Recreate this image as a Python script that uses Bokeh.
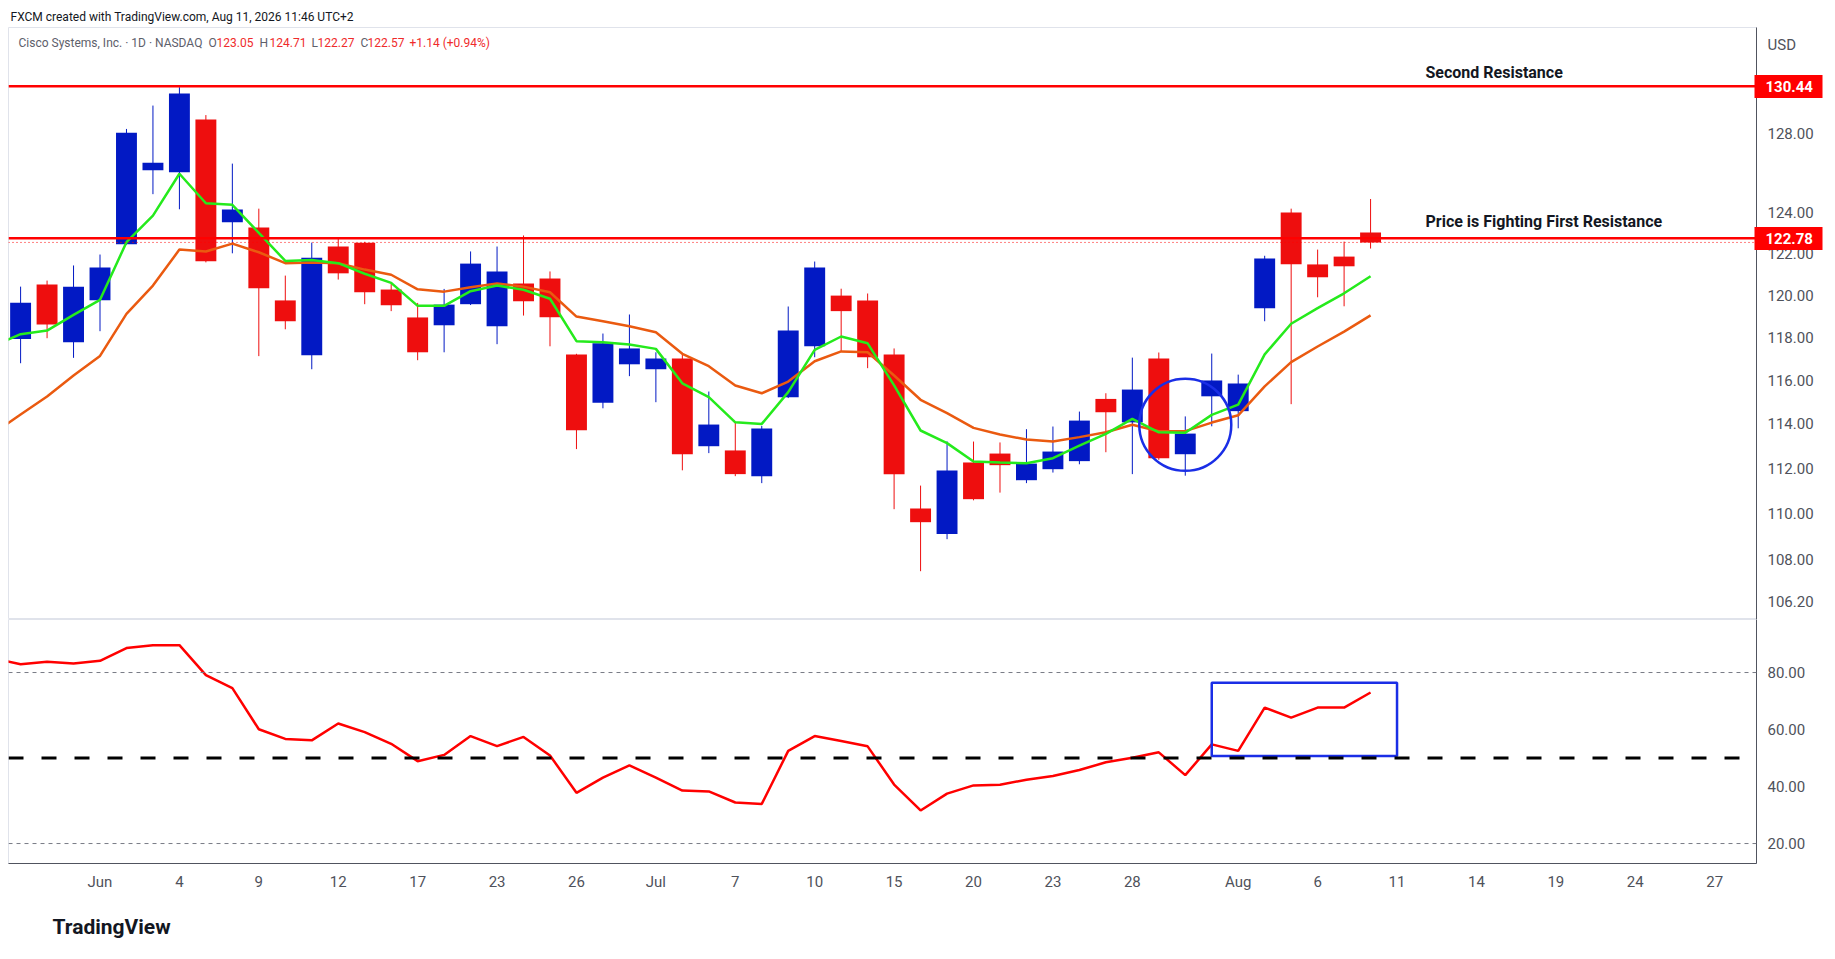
import numpy as np
import pandas as pd
from bokeh.plotting import figure
from bokeh.layouts import column
from bokeh.models import (Range1d, FixedTicker, PrintfTickFormatter, Span, Label,
                          Title, ColumnDataSource, LogAxis)
from bokeh.embed import file_html
from bokeh.resources import INLINE

# ------------------------------------------------------------------ data
dates = ["2026-05-27", "2026-05-28", "2026-05-29",
         "2026-06-01", "2026-06-02", "2026-06-03", "2026-06-04", "2026-06-05",
         "2026-06-08", "2026-06-09", "2026-06-10", "2026-06-11", "2026-06-12",
         "2026-06-15", "2026-06-16", "2026-06-17", "2026-06-18",
         "2026-06-22", "2026-06-23", "2026-06-24", "2026-06-25", "2026-06-26",
         "2026-06-29", "2026-06-30", "2026-07-01", "2026-07-02",
         "2026-07-06", "2026-07-07", "2026-07-08", "2026-07-09", "2026-07-10",
         "2026-07-13", "2026-07-14", "2026-07-15", "2026-07-16", "2026-07-17",
         "2026-07-20", "2026-07-21", "2026-07-22", "2026-07-23", "2026-07-24",
         "2026-07-27", "2026-07-28", "2026-07-29", "2026-07-30", "2026-07-31",
         "2026-08-03", "2026-08-04", "2026-08-05", "2026-08-06", "2026-08-07",
         "2026-08-10"]

open_ = [117.94, 120.53, 117.79, 119.78, 122.48, 126.15, 126.05, 128.72, 123.56, 123.30,
         119.77, 117.18, 122.37, 122.56, 120.29, 118.96, 118.59, 119.59, 118.54, 120.58,
         120.82, 117.22, 114.98, 116.76, 116.53, 117.03, 113.01, 112.82, 111.67, 115.24,
         117.60, 120.00, 119.77, 117.22, 110.24, 109.12, 112.28, 112.68, 111.49, 111.98,
         112.34, 115.16, 114.09, 117.03, 112.65, 115.28, 114.60, 119.40, 124.04, 121.50,
         121.88, 123.05]
high = [120.43, 120.72, 121.45, 121.98, 128.24, 129.44, 130.39, 128.95, 126.48, 124.23,
        120.96, 122.56, 122.76, 122.60, 120.56, 119.65, 120.32, 122.13, 122.37, 122.91,
        121.16, 117.25, 118.20, 119.10, 117.32, 117.22, 115.50, 114.11, 113.93, 119.48,
        121.64, 120.33, 120.10, 117.50, 111.25, 113.23, 113.22, 113.18, 113.78, 113.90,
        114.58, 115.42, 117.07, 117.31, 114.36, 117.26, 116.28, 121.92, 124.23, 122.22,
        122.61, 124.71]
low = [116.81, 117.98, 117.06, 118.31, 122.45, 124.95, 124.20, 121.60, 122.04, 117.14,
       118.40, 116.53, 120.77, 119.59, 119.26, 116.95, 117.32, 119.55, 117.70, 119.05,
       117.60, 112.88, 114.73, 116.21, 115.01, 111.93, 112.70, 111.67, 111.36, 115.20,
       117.09, 117.37, 116.58, 110.21, 107.52, 108.90, 110.60, 110.94, 111.36, 111.83,
       112.20, 112.74, 111.76, 112.40, 111.69, 113.91, 113.82, 118.78, 114.92, 119.92,
       119.49, 122.27]
close = [119.66, 118.63, 120.43, 121.35, 128.05, 126.53, 130.06, 121.66, 124.19, 120.35,
         118.78, 121.82, 121.07, 120.16, 119.54, 117.32, 119.57, 121.54, 121.16, 119.73,
         118.97, 113.73, 117.74, 117.50, 117.03, 112.65, 113.99, 111.76, 113.81, 118.34,
         121.35, 119.26, 117.09, 111.76, 109.64, 111.92, 110.65, 112.16, 112.23, 112.77,
         114.17, 114.55, 115.59, 112.47, 113.58, 116.01, 115.87, 121.79, 121.51, 120.88,
         121.41, 122.57]

# indicator series start one session earlier (their line enters from the left edge)
indicator_dates = ["2026-05-26"] + dates
ma_fast = [117.63,
           118.17, 118.34, 119.08, 119.80, 122.58, 123.89, 125.97, 124.50, 124.42, 123.04,
           121.67, 121.72, 121.56, 121.05, 120.61, 119.51, 119.51, 120.21, 120.48, 120.28,
           119.85, 117.84, 117.79, 117.68, 117.48, 115.88, 115.24, 114.09, 114.02, 115.47,
           117.43, 118.06, 117.74, 115.78, 113.72, 113.15, 112.32, 112.28, 112.25, 112.47,
           113.04, 113.57, 114.25, 113.64, 113.62, 114.43, 114.90, 117.22, 118.66, 119.40,
           120.11, 120.93]
ma_slow = [113.61,
           114.45, 115.27, 116.24, 117.15, 119.13, 120.48, 122.22, 122.13, 122.51, 122.09,
           121.56, 121.59, 121.56, 121.25, 121.00, 120.30, 120.19, 120.40, 120.58, 120.43,
           120.16, 119.00, 118.78, 118.54, 118.26, 117.25, 116.67, 115.78, 115.42, 115.96,
           116.90, 117.36, 117.32, 116.24, 115.12, 114.51, 113.84, 113.54, 113.31, 113.22,
           113.42, 113.64, 113.98, 113.69, 113.69, 114.08, 114.41, 115.74, 116.86, 117.59,
           118.29, 119.06]
rsi = [84.9,
       82.9, 83.8, 83.2, 84.1, 88.6, 89.6, 89.6, 79.1, 74.5, 60.1,
       56.7, 56.2, 62.1, 59.1, 55.0, 48.9, 51.1, 57.7, 54.2, 57.4,
       50.9, 37.8, 43.1, 47.4, 43.1, 38.6, 38.3, 34.4, 33.9, 52.5,
       57.7, 56.0, 54.1, 40.7, 31.6, 37.5, 40.4, 40.6, 42.4, 43.7,
       45.8, 48.5, 50.1, 52.0, 44.0, 54.8, 52.5, 67.7, 64.2, 67.7,
       67.7, 73.0]

tick_dates = ["2026-06-01", "2026-06-04", "2026-06-09", "2026-06-12", "2026-06-17",
              "2026-06-23", "2026-06-26", "2026-07-01", "2026-07-07", "2026-07-10",
              "2026-07-15", "2026-07-20", "2026-07-23", "2026-07-28", "2026-08-03",
              "2026-08-06", "2026-08-11", "2026-08-14", "2026-08-19", "2026-08-24",
              "2026-08-27"]
tick_labels = ["Jun", "4", "9", "12", "17", "23", "26", "Jul", "7", "10", "15", "20",
               "23", "28", "Aug", "6", "11", "14", "19", "24", "27"]
price_ticks = [106.2, 108, 110, 112, 114, 116, 118, 120, 122, 124, 128]
rsi_ticks = [20, 40, 60, 80]
currency_label, currency_level = "USD", 132.62

second_resistance = 130.44
first_resistance = 122.78
last_close = 122.57
rsi_upper, rsi_mid, rsi_lower = 80, 50, 20
circle_date, circle_price = "2026-07-30", 113.98
box_start, box_end, box_low, box_high = "2026-07-31", "2026-08-11", 50.7, 76.4

header = "FXCM created with TradingView.com, Aug 11, 2026 11:46 UTC+2"
legend_parts = [("Cisco Systems, Inc. \u00b7 1D \u00b7 NASDAQ", "grey"), ("O", "grey"),
                ("123.05", "red"), ("H", "grey"), ("124.71", "red"), ("L", "grey"),
                ("122.27", "red"), ("C", "grey"), ("122.57", "red"),
                ("+1.14 (+0.94%)", "red")]
legend_left = [10, 200, 208, 251, 261, 303, 309, 352, 359, 401]

# ------------------------------------------------------------------ x positions (trading-day index)
cal = pd.bdate_range("2026-05-20", "2026-09-04", freq="C",
                     holidays=["2026-05-25", "2026-06-19", "2026-07-03"])
pos = {d.strftime("%Y-%m-%d"): i for i, d in enumerate(cal)}
origin = pos["2026-06-01"]
xs = [pos[d] - origin for d in dates]
xi = [pos[d] - origin for d in indicator_dates]
tick_x = [pos[d] - origin for d in tick_dates]

UP, DOWN = "#0219c4", "#ee0e0e"
FONT = "Roboto"
AX_TXT = "#4f525b"
AX_LINE = "#50535e"
FRAME = "#e0e3eb"

o = np.array(open_); c = np.array(close)
src = ColumnDataSource(dict(
    x=xs, low=low, high=high,
    top=np.maximum(o, c), bottom=np.minimum(o, c),
    color=[UP if cc >= oo else DOWN for oo, cc in zip(open_, close)]))

xr = Range1d(-3.457, 62.58)
LB, FW, RB = 8, 1748, 75

# ------------------------------------------------------------------ price panel
p1 = figure(width=LB + FW + RB, height=27 + 592, x_range=xr, y_range=Range1d(105.47, 133.53),
            y_axis_type="log", y_axis_location="right", x_axis_location=None,
            output_backend="svg", toolbar_location=None,
            min_border_left=LB, min_border_right=RB, min_border_top=27, min_border_bottom=0,
            outline_line_color=FRAME, title=header)
p1.title.text_font = FONT
p1.title.text_font_size = "12px"
p1.title.text_font_style = "normal"
p1.title.text_color = "#131722"
p1.title.align = "left"
p1.title.offset = 2
p1.title.standoff = 7
p1.grid.visible = False

p1.segment(x0="x", y0="low", x1="x", y1="high", line_color="color", line_width=1, source=src)
p1.vbar(x="x", width=0.79, top="top", bottom="bottom", fill_color="color",
        line_color=None, source=src)
p1.line(xi, ma_slow, line_color="#ea5a10", line_width=2.5)
p1.line(xi, ma_fast, line_color="#25ea1c", line_width=2.5)

p1.add_layout(Span(location=second_resistance, dimension="width", line_color="#ff0000", line_width=2.5))
p1.add_layout(Span(location=first_resistance, dimension="width", line_color="#ff0000", line_width=2.5))
p1.add_layout(Span(location=last_close, dimension="width", line_color="#ff0000", line_width=1,
                   line_dash="1 3"))

p1.scatter([pos[circle_date] - origin], [circle_price], marker="circle", size=92,
           fill_color=None, line_color="#1a2ee6", line_width=2.5)


def style_y(ax):
    ax.major_tick_line_color = None
    ax.minor_tick_line_color = None
    ax.major_tick_out = 0
    ax.major_tick_in = 0
    ax.axis_line_color = AX_LINE
    ax.major_label_text_font = FONT
    ax.major_label_text_font_size = "15px"
    ax.major_label_text_color = AX_TXT
    ax.major_label_standoff = 11


ya = p1.yaxis[0]
ya.ticker = FixedTicker(ticks=price_ticks + [currency_level])
ya.formatter = PrintfTickFormatter(format="%.2f")
style_y(ya)
ya.major_label_overrides = {currency_level: currency_label}

# price tags: a second axis whose thick red ticks form the label boxes
tag_axis = LogAxis(ticker=FixedTicker(ticks=[second_resistance, first_resistance]),
                   formatter=PrintfTickFormatter(format="%.2f"),
                   axis_line_color=None, minor_tick_line_color=None,
                   major_tick_line_color="#ff0000", major_tick_line_width=23,
                   major_tick_in=62, major_tick_out=6,
                   major_label_standoff=-57, major_label_text_color="white",
                   major_label_text_font=FONT, major_label_text_font_size="15px",
                   major_label_text_font_style="bold")
p1.add_layout(tag_axis, "right")

# annotation texts
p1.add_layout(Label(x=1417, x_units="screen", y=second_resistance, y_offset=14,
                    text="Second Resistance", text_font=FONT, text_font_size="16px",
                    text_font_style="bold", text_color="#131722", text_baseline="middle"))
p1.add_layout(Label(x=1417, x_units="screen", y=first_resistance, y_offset=17,
                    text="Price is Fighting First Resistance", text_font=FONT,
                    text_font_size="16px", text_font_style="bold", text_color="#131722",
                    text_baseline="middle"))

# legend line
for (txt, col), lx in zip(legend_parts, legend_left):
    p1.add_layout(Label(x=lx, x_units="screen", y=577, y_units="screen", text=txt,
                        text_font=FONT, text_font_size="12px",
                        text_color="#5d606b" if col == "grey" else "#ef2b2b",
                        text_baseline="middle"))

# ------------------------------------------------------------------ RSI panel
p2 = figure(width=LB + FW + RB, height=244 + 94, x_range=xr, y_range=Range1d(13.0, 98.6),
            y_axis_location="right", output_backend="svg", toolbar_location=None,
            min_border_left=LB, min_border_right=RB, min_border_top=0, min_border_bottom=94,
            outline_line_color=FRAME)
p2.grid.visible = False
p2.add_layout(Span(location=rsi_upper, dimension="width", line_color="#787b86",
                   line_width=1, line_dash="4 4"))
p2.add_layout(Span(location=rsi_lower, dimension="width", line_color="#787b86",
                   line_width=1, line_dash="4 4"))
p2.add_layout(Span(location=rsi_mid, dimension="width", line_color="black",
                   line_width=3, line_dash="15 18"))
p2.line(xi, rsi, line_color="#ff0000", line_width=2.5)
p2.quad(left=[pos[box_start] - origin], right=[pos[box_end] - origin],
        bottom=[box_low], top=[box_high], fill_color=None, line_color="#1a2ee6", line_width=2.5)

ry = p2.yaxis[0]
ry.ticker = FixedTicker(ticks=rsi_ticks)
ry.formatter = PrintfTickFormatter(format="%.2f")
style_y(ry)

xa = p2.xaxis[0]
xa.ticker = FixedTicker(ticks=tick_x)
xa.major_label_overrides = {t: l for t, l in zip(tick_x, tick_labels)}
xa.major_tick_line_color = None
xa.minor_tick_line_color = None
xa.major_tick_out = 0
xa.major_tick_in = 0
xa.axis_line_color = AX_LINE
xa.major_label_text_font = FONT
xa.major_label_text_font_size = "15px"
xa.major_label_text_color = AX_TXT
xa.major_label_standoff = 9

p2.add_layout(Title(text="TradingView", text_font=FONT, text_font_size="21px",
                    text_font_style="bold", text_color="#131722", align="left",
                    offset=44, standoff=38), "below")

layout = column(p1, p2, spacing=0)
open("out.html", "w").write(file_html(layout, INLINE))
